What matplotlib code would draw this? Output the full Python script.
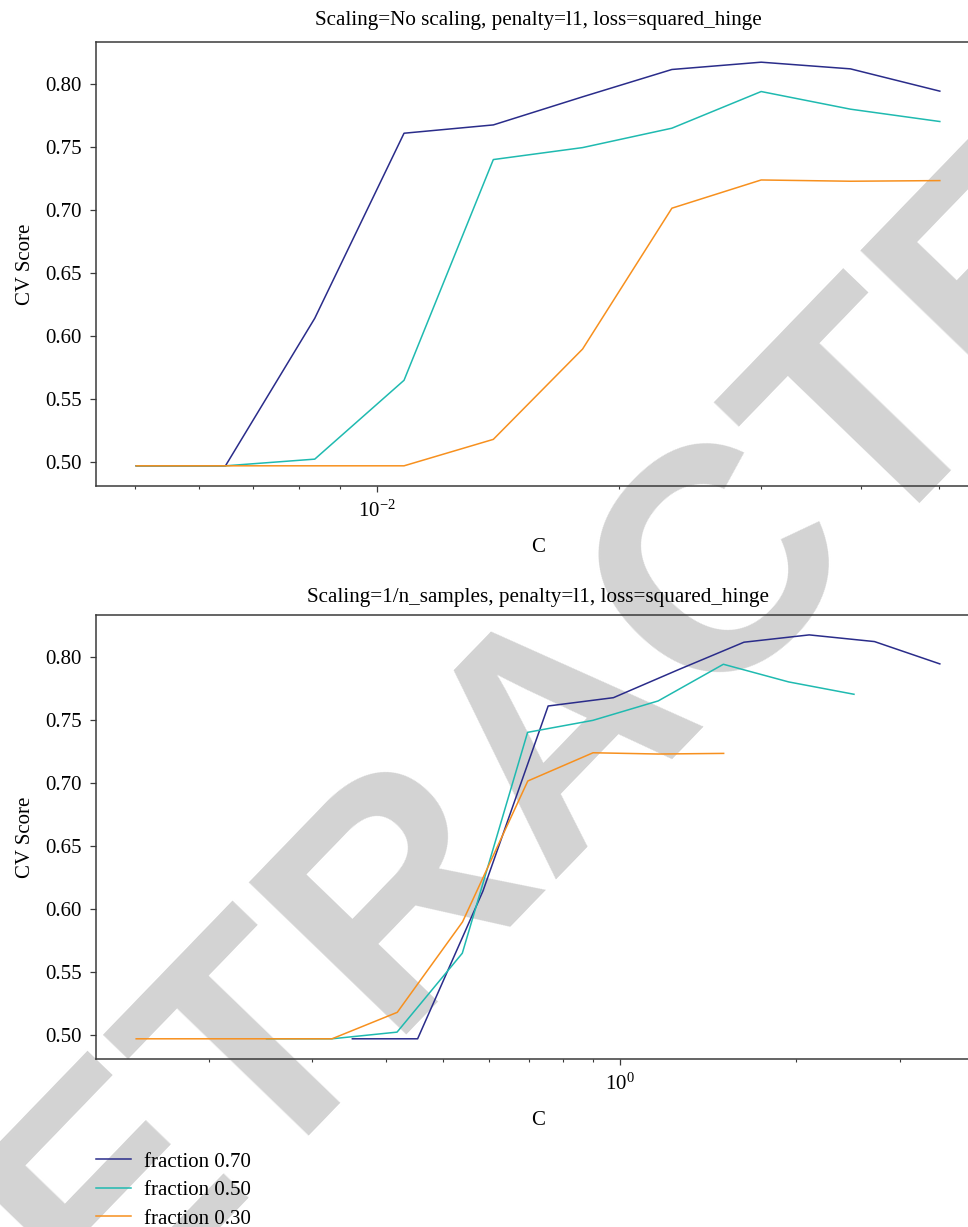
import matplotlib
matplotlib.use("Agg")
import matplotlib.pyplot as plt

# C grid used for the search
cs = [0.005012, 0.006473, 0.008360, 0.010797, 0.013945,
      0.018009, 0.023260, 0.030040, 0.038797, 0.050119]
n_samples = 100
fractions = [0.70, 0.50, 0.30]

score_070 = [0.4968, 0.4968, 0.6139, 0.7608, 0.7674,
             0.7897, 0.8114, 0.8172, 0.8119, 0.7942]
score_050 = [0.4968, 0.4968, 0.5021, 0.5647, 0.7399,
             0.7494, 0.7648, 0.7939, 0.7799, 0.7701]
score_030 = [0.4968, 0.4968, 0.4968, 0.4968, 0.5178,
             0.5895, 0.7013, 0.7237, 0.7227, 0.7232]
scores = [score_070, score_050, score_030]
colors = ["#2a2c8a", "#1fbab0", "#f7901e"]

titles = ["Scaling=No scaling, penalty=l1, loss=squared_hinge",
          "Scaling=1/n_samples, penalty=l1, loss=squared_hinge"]

plt.rcParams["font.family"] = ["Liberation Serif", "DejaVu Serif"]
plt.rcParams["mathtext.fontset"] = "custom"
plt.rcParams["mathtext.rm"] = "Liberation Serif"
plt.rcParams["axes.unicode_minus"] = False
plt.rcParams["font.size"] = 15

W, H = 968, 1227
fig = plt.figure(figsize=(W / 100, H / 100), dpi=100)

# grey diagonal watermark behind everything
fig.text(566 / W, 1 - 730 / H, "RETRACTED", rotation=46, fontsize=228,
         fontweight="bold", family="Liberation Sans", color="#d3d3d3",
         ha="center", va="center", zorder=-10)

ax1 = fig.add_axes([96 / W, 1 - 486 / H, 884 / W, 444 / H])
ax2 = fig.add_axes([96 / W, 1 - 1059 / H, 884 / W, 444.3 / H])

for i, ax in enumerate([ax1, ax2]):
    for frac, sc, col in zip(fractions, scores, colors):
        scale = 1 if i == 0 else n_samples * frac
        xs = [c * scale for c in cs]
        ax.semilogx(xs, sc, color=col, lw=1.1, label="fraction %.2f" % frac)
    ax.set_facecolor("none")
    ax.set_title(titles[i], fontsize=15.2, pad=12 if i == 0 else 9)
    ax.set_xlabel("C", labelpad=12)
    ax.set_ylabel("CV Score", labelpad=7)
    for s in ax.spines.values():
        s.set_color("#3a3a3a")
        s.set_linewidth(1.1)
    ax.tick_params(which="major", length=4.5, width=0.9, pad=6, color="#3a3a3a")
    ax.tick_params(which="minor", length=2.5, width=0.8, color="#3a3a3a")
    ax.set_yticks([0.50, 0.55, 0.60, 0.65, 0.70, 0.75, 0.80])

ax2.legend(loc="upper left", bbox_to_anchor=(96 / W, 1 - 1152 / H),
           bbox_transform=fig.transFigure, frameon=False,
           handlelength=1.68, handletextpad=0.62, labelspacing=0.43,
           borderaxespad=0, borderpad=0)

fig.savefig("out.png", dpi=100)
